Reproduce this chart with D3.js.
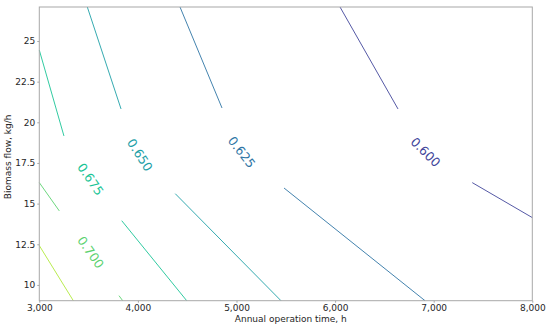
<!DOCTYPE html>
<html>
<head>
<meta charset="utf-8">
<script src="https://cdn.jsdelivr.net/npm/d3@7"></script>
<style>
  body { margin: 0; background: #fff; }
  text { font-family: "DejaVu Sans", sans-serif; }
</style>
</head>
<body>
<div id="chart-area"></div>
<script>
// Contour levels and their line pieces (annual hours, kg/h)
var levels = [0.600, 0.625, 0.650, 0.675, 0.700, 0.725];

var level600 = [[[6050, 27.09], [6638, 20.82]], [[7391, 16.29], [8000, 14.14]]];
var level625 = [[[4427, 27.09], [4853, 20.88]], [[5482, 15.96], [6912, 9.03]]];
var level650 = [[[3487, 27.09], [3829, 20.82]], [[4379, 15.61], [5451, 9.03]]];
var level675 = [[[3000, 24.44], [3250, 19.16]], [[3836, 13.95], [4495, 9.03]]];
var level700 = [[[3000, 16.29], [3203, 14.55]], [[3808, 9.34], [3846, 9.03]]];
var level725 = [[[3000, 12.42], [3345, 9.03]]];

var levelLines = [level600, level625, level650, level675, level700, level725];

// inline labels (only first five levels carry one)
var labelX = [6917, 5053, 4021, 3521, 3521];
var labelY = [18.17, 18.16, 17.99, 16.50, 12.01];

var xTicks = [3000, 4000, 5000, 6000, 7000, 8000];
var yTicks = [10, 12.5, 15, 17.5, 20, 22.5, 25];

var margin = {top: 7, right: 17.7, bottom: 25.3, left: 39.3};
var width = 550 - margin.left - margin.right,
    height = 326 - margin.top - margin.bottom;

var svg = d3.select("#chart-area").append("svg")
    .attr("width", 550)
    .attr("height", 326)
  .append("g")
    .attr("transform", "translate(" + margin.left + "," + margin.top + ")");

var x = d3.scaleLinear().domain([3000, 8000]).range([0, width]);
var y = d3.scaleLinear().domain([9.03, 27.09]).range([height, 0]);

var viridis = d3.scaleSequential(d3.interpolateViridis).domain([0.5625, 0.75]);
// the picture looks a touch brighter than plain viridis
function color(v) {
  var c = d3.hsl(viridis(v));
  c.s = Math.min(1, c.s * 1.15);
  c.l = c.l + 0.04;
  return c.formatHex();
}

var line = d3.line()
    .x(d => x(d[0]))
    .y(d => y(d[1]));

// contour pieces
levelLines.forEach(function(segs, i) {
  svg.append("g").selectAll("path")
    .data(segs)
    .enter().append("path")
    .attr("d", line)
    .attr("fill", "none")
    .attr("stroke", color(levels[i]))
    .attr("stroke-width", 0.9);
});

// labels, rotated along the gap they sit in
labelX.forEach(function(lx, i) {
  var segs = levelLines[i];
  var a = segs[0][segs[0].length - 1], b = segs[1][0];
  var ang = Math.atan2(y(b[1]) - y(a[1]), x(b[0]) - x(a[0])) * 180 / Math.PI;
  svg.append("text")
    .attr("transform", "translate(" + x(lx) + "," + y(labelY[i]) + ") rotate(" + ang + ")")
    .attr("text-anchor", "middle")
    .attr("dy", "0.36em")
    .attr("fill", color(levels[i]))
    .style("font-size", "12.5px")
    .text(d3.format(".3f")(levels[i]));
});

// frame
svg.append("rect")
    .attr("width", width)
    .attr("height", height)
    .attr("fill", "none")
    .attr("stroke", "#a8a8a8")
    .attr("stroke-width", 1);

var xAxis = d3.axisBottom(x).tickValues(xTicks).tickFormat(d3.format(",")).tickSize(2).tickPadding(2);
var yAxis = d3.axisLeft(y).tickValues(yTicks).tickFormat(d => d % 1 ? d3.format(".1f")(d) : d).tickSize(2).tickPadding(2);

var xAxisGroup = svg.append("g")
    .attr("transform", "translate(0," + height + ")")
    .call(xAxis);
var yAxisGroup = svg.append("g")
    .call(yAxis);

[xAxisGroup, yAxisGroup].forEach(function(g) {
  g.select(".domain").remove();
  g.selectAll("line").attr("stroke", "#a8a8a8");
  g.selectAll("text")
    .attr("fill", "#262626")
    .style("font-size", "9px")
    .style("font-family", "'DejaVu Sans', sans-serif");
});

svg.append("text")
    .attr("x", width / 2 + 5)
    .attr("y", height + 21)
    .attr("text-anchor", "middle")
    .attr("fill", "#262626")
    .style("font-size", "9px")
    .text("Annual operation time, h");

svg.append("text")
    .attr("transform", "translate(" + (-28.5) + "," + (height / 2 + 3) + ") rotate(-90)")
    .attr("text-anchor", "middle")
    .attr("fill", "#262626")
    .style("font-size", "9px")
    .text("Biomass flow, kg/h");
</script>
</body>
</html>
